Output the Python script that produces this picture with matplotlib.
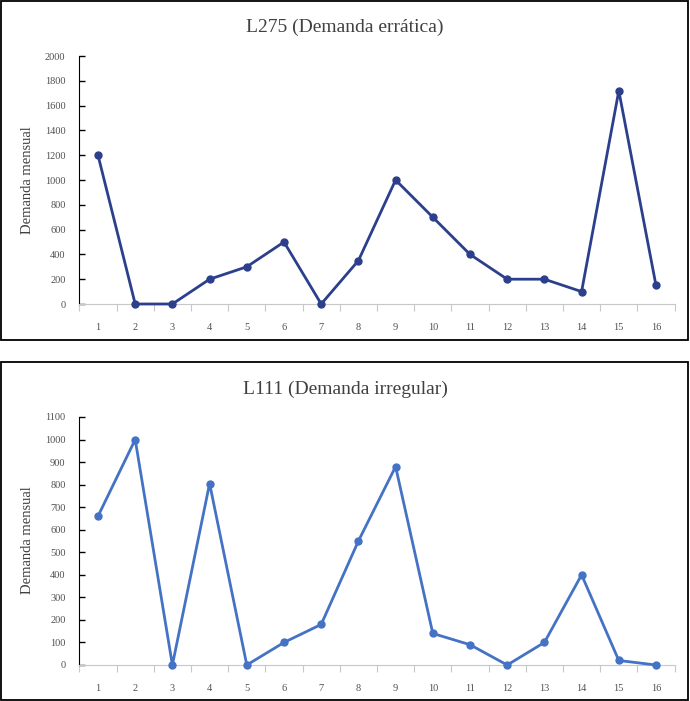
import matplotlib
matplotlib.use('Agg')
import matplotlib.pyplot as plt
from matplotlib.patches import Rectangle
import numpy as np

meses = list(range(1, 17))
l275 = [1200, 0, 0, 200, 300, 500, 0, 350, 1000, 700, 400, 200, 200, 100, 1720, 150]
l111 = [660, 1000, 0, 805, 0, 100, 180, 550, 880, 140, 90, 0, 100, 400, 20, 0]

plt.rcParams['font.family'] = ['Liberation Serif', 'DejaVu Serif']

W, H = 690, 701
fig = plt.figure(figsize=(W / 100, H / 100), dpi=100)


def px(x0, y0, x1, y1):
    # caja en pixeles -> fracciones de figura
    return [x0 / W, 1 - y1 / H, (x1 - x0) / W, (y1 - y0) / H]


def panel(box, ax_box, titulo, datos, ymax, paso, color, ty, ly):
    fig.patches.append(Rectangle((box[0], box[1]), box[2], box[3], transform=fig.transFigure,
                                 fill=False, edgecolor='black', linewidth=1.3))
    ax = fig.add_axes(ax_box)
    ax.plot(meses, datos, color=color, linewidth=2.0, marker='o', markersize=5, clip_on=False, zorder=3)
    ax.set_xlim(0.5, 16.5)
    ax.set_ylim(0, ymax)
    ax.set_yticks(np.arange(0, ymax + 1, paso))
    ax.set_xticks(np.arange(0.5, 17, 1))
    ax.set_xticklabels([])
    ax.set_xticks(meses, minor=True)
    ax.set_xticklabels([str(m) for m in meses], minor=True)
    ax.tick_params(axis='x', which='major', direction='out', length=5, color='#c8c8c8')
    ax.tick_params(axis='x', which='minor', length=0, pad=14, labelsize=7.5, labelcolor='#505050')
    ax.tick_params(axis='y', direction='in', length=4, width=1, color='black',
                   labelsize=7.5, labelcolor='#505050', pad=10)
    for s in ['top', 'right']:
        ax.spines[s].set_visible(False)
    ax.spines['bottom'].set_color('#c8c8c8')
    ax.spines['left'].set_color('black')
    ax.patch.set_alpha(0)
    fig.text(0.5, 1 - ty / H, titulo, ha='center', va='center', fontsize=14, color='#404040')
    fig.text(28 / W, 1 - ly / H, 'Demanda mensual', rotation=90, ha='center', va='center',
             fontsize=10.5, color='#404040')


panel((1 / W, 1 - 340 / H, 687 / W, 339 / H), px(79.4, 56, 674.6, 304),
      'L275 (Demanda errática)', l275, 2000, 200, '#2c3f8c', 27, 180)
panel((1 / W, 1 - 700 / H, 687 / W, 338 / H), px(79.4, 417, 674.6, 665),
      'L111 (Demanda irregular)', l111, 1100, 100, '#4472c4', 389, 540)

fig.savefig('out.png', dpi=100)
